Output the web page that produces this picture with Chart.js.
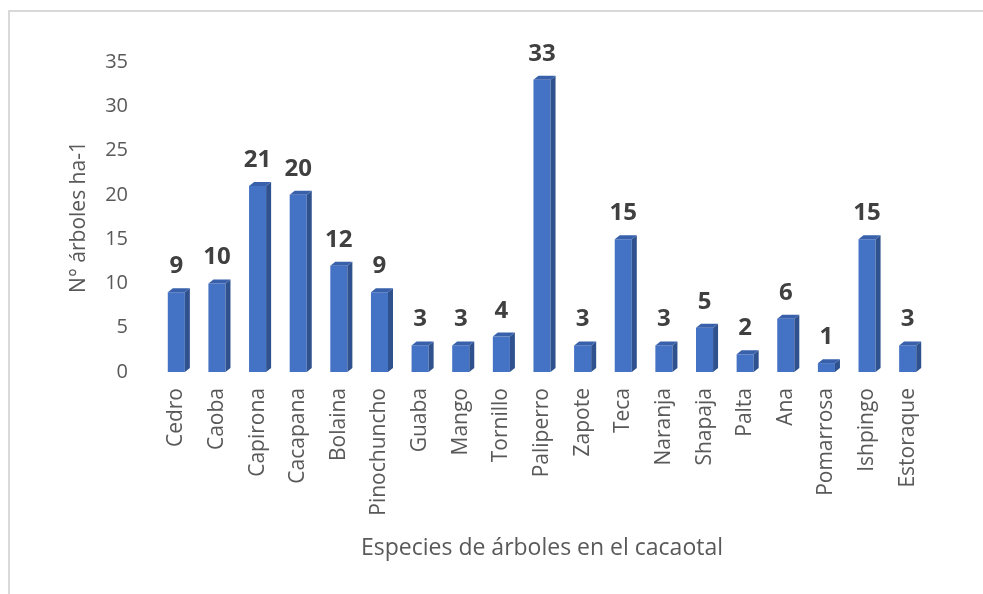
<!DOCTYPE html>
<html>
<head>
<meta charset="utf-8">
<script src="https://cdn.jsdelivr.net/npm/chart.js@4.4.1/dist/chart.umd.min.js"></script>
<style>
  html,body{margin:0;padding:0;background:#fff;}
  #wrap{width:983px;height:594px;}
</style>
</head>
<body>
<div id="wrap"><canvas id="myChart" width="983" height="594"></canvas></div>
<script>
var especies = ['Cedro','Caoba','Capirona','Cacapana','Bolaina','Pinochuncho','Guaba','Mango','Tornillo',
  'Paliperro','Zapote','Teca','Naranja','Shapaja','Palta','Ana','Pomarrosa','Ishpingo','Estoraque'];
var arboles = [9,10,21,20,12,9,3,3,4,33,3,15,3,5,2,6,1,15,3];
var yTicks = [0,5,10,15,20,25,30,35];

var fuente = "'Open Sans', 'DejaVu Sans', sans-serif";

// marco gris + cara lateral/superior de las barras (efecto 3D) + etiquetas
const barras3d = {
  id: 'barras3d',
  beforeDraw(chart){
    const c = chart.ctx;
    c.save();
    c.strokeStyle = '#d9d9d9';
    c.lineWidth = 2;
    c.strokeRect(9, 11, 1100, 1100);
    c.restore();
  },
  afterDatasetsDraw(chart){
    const c = chart.ctx;
    const meta = chart.getDatasetMeta(0);
    const d = 5, dy = 4;
    c.save();
    meta.data.forEach((bar, i) => {
      const p = bar.getProps(['x','y','base','width'], true);
      const l = p.x - p.width/2, r = p.x + p.width/2;
      // lado derecho
      c.fillStyle = '#2F528F';
      c.beginPath();
      c.moveTo(r, p.y); c.lineTo(r+d, p.y-dy); c.lineTo(r+d, p.base-dy); c.lineTo(r, p.base);
      c.closePath(); c.fill();
      // tapa
      c.fillStyle = '#3960AB';
      c.beginPath();
      c.moveTo(l, p.y); c.lineTo(l+d, p.y-dy); c.lineTo(r+d, p.y-dy); c.lineTo(r, p.y);
      c.closePath(); c.fill();
      // etiqueta
      c.fillStyle = '#404040';
      c.font = 'bold 24px ' + fuente;
      c.textAlign = 'center';
      c.textBaseline = 'alphabetic';
      c.fillText(String(arboles[i]), p.x, p.y - 19);
    });
    c.restore();
  }
};

const ctx = document.getElementById('myChart');
new Chart(ctx, {
  type: 'bar',
  data: {
    labels: especies,
    datasets: [{
      label: 'N° árboles ha-1',
      data: arboles,
      backgroundColor: '#4472C4',
      borderWidth: 0,
      barPercentage: 0.84,
      categoryPercentage: 0.5
    }]
  },
  options: {
    responsive: false,
    animation: false,
    layout: { padding: { left: 10, right: 55, top: 62, bottom: 0 } },
    plugins: { legend: { display: false }, tooltip: { enabled: false } },
    scales: {
      x: {
        grid: { display: false, drawTicks: false },
        border: { display: false },
        ticks: { color: '#595959', font: { family: fuente, size: 21 }, minRotation: 90, maxRotation: 90, padding: 16, autoSkip: false },
        title: { display: true, text: 'Especies de árboles en el cacaotal', color: '#595959', font: { family: fuente, size: 23 }, padding: { top: 0, bottom: 32 } },
        afterFit(s){ s.height = 222; }
      },
      y: {
        min: 0, max: 35,
        afterBuildTicks(s){ s.ticks = yTicks.map(v => ({ value: v })); },
        grid: { display: false, drawTicks: false },
        border: { display: false },
        ticks: { color: '#595959', font: { family: fuente, size: 20 }, padding: 28 },
        title: { display: true, text: 'N° árboles ha-1', color: '#595959', font: { family: fuente, size: 21 }, padding: { top: 56, bottom: 0 } },
        afterFit(s){ s.width = 146; }
      }
    }
  },
  plugins: [barras3d]
});
</script>
</body>
</html>
